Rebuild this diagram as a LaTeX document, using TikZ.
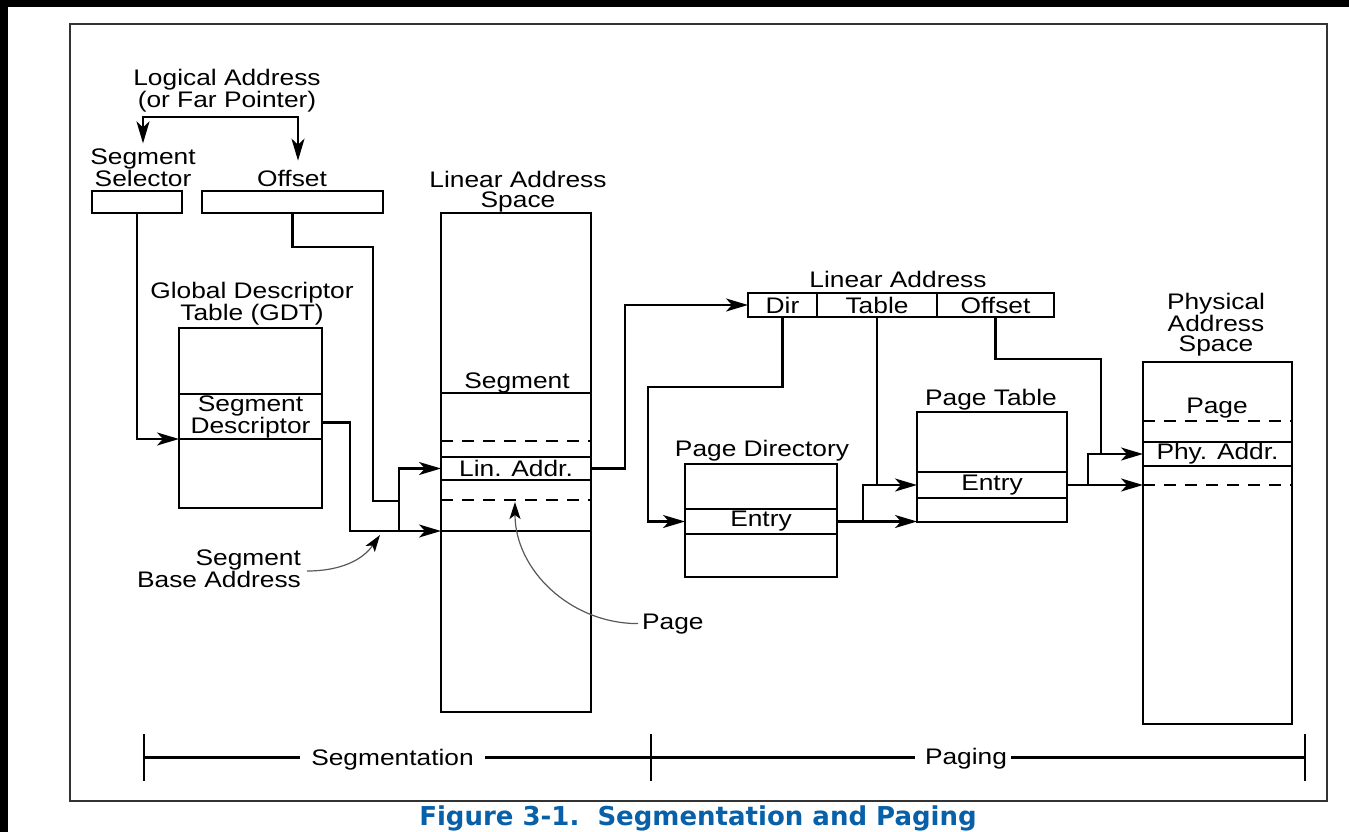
\documentclass[tikz,border=0pt]{standalone}
\usepackage{fontspec}
\setmainfont{Liberation Sans}[FakeStretch=1.17]
\newfontfamily\capfont{DejaVu Sans}
\usepackage{xcolor}
\usetikzlibrary{arrows.meta,positioning}
\definecolor{intelblue}{RGB}{8,96,168}

\begin{document}
\begin{tikzpicture}[x=1pt, y=-1pt, line width=2.1pt,
  every node/.style={font=\fontsize{22.5}{20.5}\selectfont, inner sep=0pt},
  box/.style args={#1/#2}{draw, outer sep=0pt, minimum width=#1pt, minimum height=#2pt},
  arr/.style={-{Stealth[length=22pt, width=13pt, inset=6pt]}},
  dashline/.style={line width=1.8pt, dash pattern=on 12pt off 9pt},
  note/.style={line width=1.2pt, draw=black!65, -{Stealth[length=17pt, width=11pt, inset=4pt, color=black]}}]
% page and frame
\fill[black] (0,0) rectangle (1349,832);
\fill[white] (8,7) rectangle (1349,832);
\useasboundingbox (0,0) rectangle (1349,832);
\draw[black!80, line width=2.6pt] (70,24) rectangle (1327,801);

% logical address
\node[align=center] (logical) at (227,91) {Logical Address\\(or Far Pointer)};
\node[align=center] (sellbl) at (143,167.4) {Segment\\Selector};
\node[anchor=base] (offlbl) at (292,186) {Offset};
\node[box=90/22] (sel) at (137,202) {};
\node[box=181/22] (off) at (292.5,202) {};
\coordinate (la) at (221,117);
\draw[arr] (la) -| ([yshift=4pt]sellbl.north);
\draw[arr] (la) -| ([xshift=6pt, yshift=8pt]offlbl.north);

% global descriptor table
\node[align=center] (gdtlbl) at (252,304) {Global Descriptor\\Table (GDT)};
\node[box=143/180] (gdt) at (250.5,418) {};
\node[box=143/45, align=center] (desc) at (250.5,416.5) {Segment\\Descriptor};
\draw[arr] (sel.south) |- (desc.south west);

% linear address space
\node[align=center] (laslbl) at (518,191.6) {Linear Address\\Space};
\node[box=150/499] (las) at (516,462.5) {};
\node[box=150/138] (segm) at (516,462) {};
\node[anchor=base] (segmlbl) at (517,388) {Segment};
\node[box=150/23] (lin) at (516,468.5) {Lin. Addr.};
\draw[dashline] (las.west |- 0,441) -- (las.east |- 0,441);
\draw[dashline] (las.west |- 0,500) -- (las.east |- 0,500);
\coordinate (offbend) at (373,247);
\coordinate (segj) at (399,501);
\coordinate (descbend) at (350,531);
\draw (off.south) |- (offbend) |- (segj);
\draw[arr] (segj) |- (lin.west);
\draw (segj) -- (segj |- segm.south west);
\draw[arr] ([yshift=-6pt]desc.east) -| (descbend) -- (segm.south west);
\node[anchor=east, align=right] (sba) at (302,569) {Segment\\Base Address};
\coordinate (sbatip) at (380,535);
\draw[note] ([xshift=5pt, yshift=-2pt]sba.east) to[out=0, in=-125] (sbatip);
\node[anchor=base west] (pglbl) at (641,629) {Page};
\coordinate (pgtip) at (515,502);
\draw[note] ([xshift=-3pt]pglbl.west) to[out=180, in=-90] (pgtip);

% linear address fields
\node[anchor=base] (linlbl) at (898,287) {Linear Address};
\node[box=69/24] (dir) at (782.5,305) {Dir};
\node[box=120/24, right=0pt of dir] (tbl) {Table};
\node[box=117/24, right=0pt of tbl] (offf) {Offset};
\coordinate (linup) at (625,305);
\draw[arr] (lin.east) -| (linup) -- (dir.west);

% page directory
\node[anchor=base] (pdlbl) at (762,456) {Page Directory};
\node[box=152/113] (pd) at (761,520.5) {};
\node[box=152/25] (pde) at (761,521.5) {Entry};
\coordinate (dirbend) at (648,387);
\draw[arr] (dir.south) |- (dirbend) |- (pde.west);

% page table
\node[anchor=base] (ptlbl) at (991,405) {Page Table};
\node[box=150/110] (pt) at (992,467) {};
\node[box=150/26] (pte) at (992,485) {Entry};
\draw[arr] (pde.east) -- (pde.east -| pt.west);
\coordinate (ptj) at (pde.east -| 863,0);
\draw[arr] (ptj) |- (pte.west);
\draw (tbl.south) -- (tbl.south |- pte.west);

% physical address space
\node[align=center] (physlbl) at (1216,324.7) {Physical\\Address\\Space};
\node[box=149/362] (phys) at (1217.5,543) {};
\node[anchor=base] (physpg) at (1217,413) {Page};
\node[box=149/24] (pa) at (1217.5,454) {Phy. Addr.};
\draw[dashline] (phys.west |- 0,421) -- (phys.east |- 0,421);
\draw[dashline] (phys.west |- 0,485) -- (phys.east |- 0,485);
\draw[arr] (pte.east) -- (pte.east -| phys.west);
\coordinate (physj) at (pte.east -| 1088,0);
\draw[arr] (physj) |- (pa.west);
\coordinate (offbend2) at (1101,359);
\draw (offf.south) |- (offbend2) -- (offbend2 |- pa.west);

% segmentation / paging bar
\coordinate (tl) at (144,757.5);
\coordinate (tm) at (651,757.5);
\coordinate (tr) at (1305,757.5);
\node[anchor=base] (seg) at (392.5,765) {Segmentation};
\node[anchor=base] (pag) at (966,764) {Paging};
\foreach \t in {tl,tm,tr} \draw ([yshift=23.5pt]\t) -- ([yshift=-23.5pt]\t);
\draw[shorten >=10pt] (tl) -- (tl -| seg.west);
\draw[shorten <=10pt] (tm -| seg.east) -- (tm);
\draw[shorten >=9pt] (tm) -- (tm -| pag.west);
\draw[shorten <=3pt] (tr -| pag.east) -- (tr);

% caption
\node[anchor=base, text=intelblue, font=\capfont\bfseries\fontsize{26}{26}\selectfont] (caption) at (698,825) {Figure 3-1.\ \ Segmentation and Paging};
\end{tikzpicture}
\end{document}
